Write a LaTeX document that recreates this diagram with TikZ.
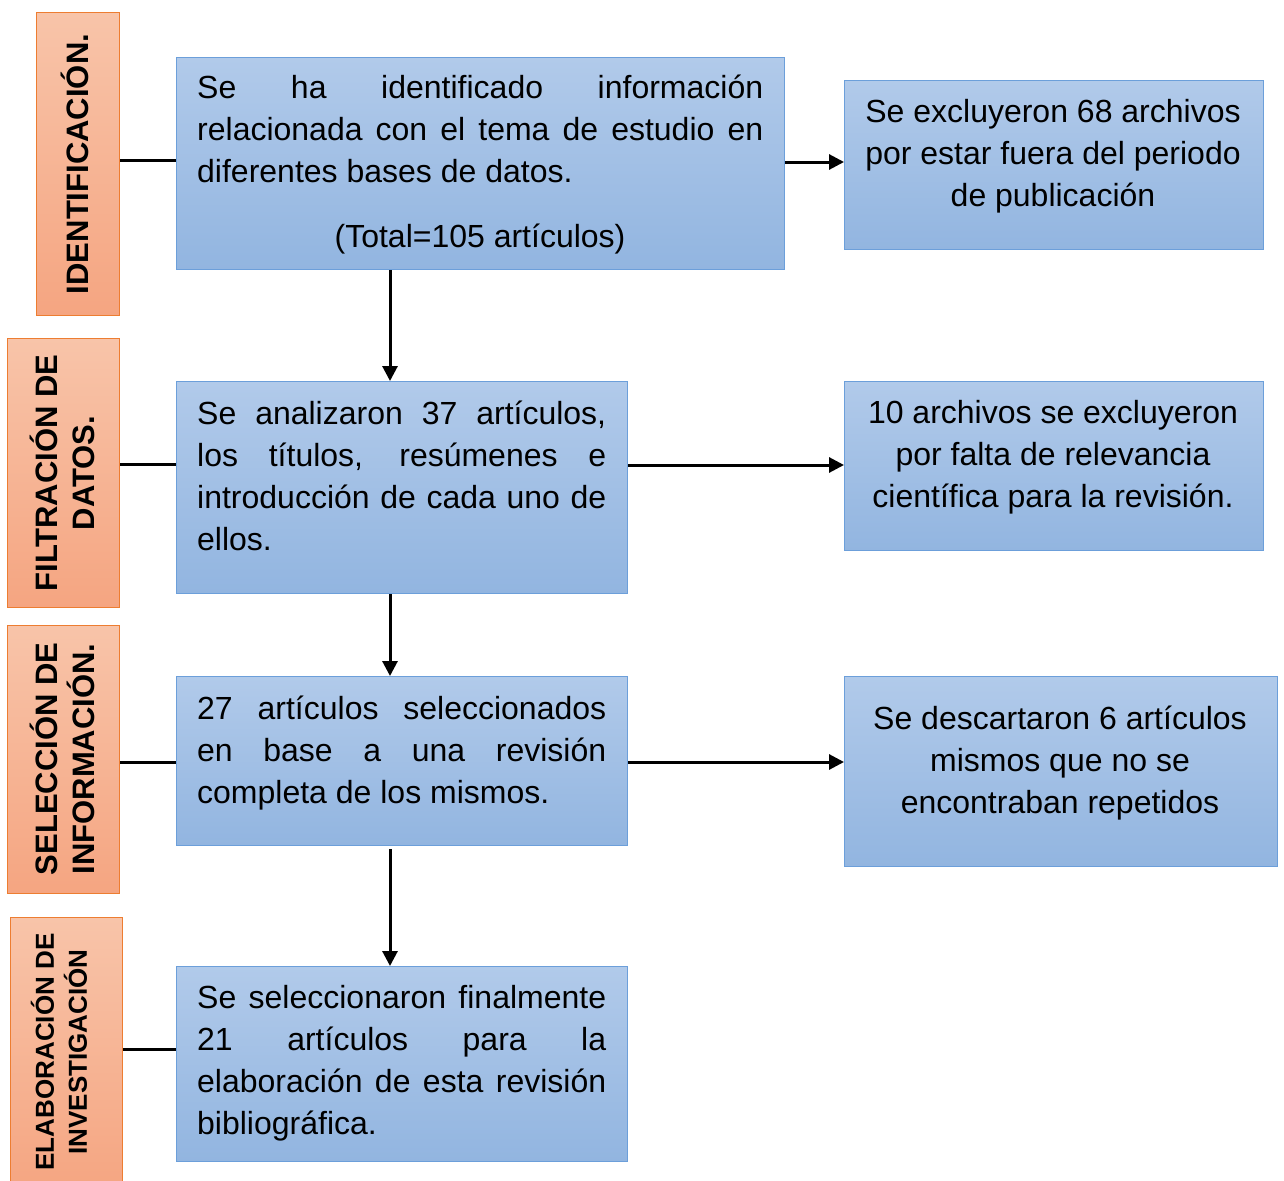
\documentclass[tikz,border=0pt]{standalone}
\usepackage{fontspec}
\setmainfont{Liberation Sans}
\usetikzlibrary{arrows.meta}
\definecolor{orT}{HTML}{F8C4A9}
\definecolor{orB}{HTML}{F5A581}
\definecolor{orD}{HTML}{ED7D31}
\definecolor{blT}{HTML}{B1CAEA}
\definecolor{blB}{HTML}{92B5E0}
\definecolor{blD}{HTML}{6C9FDA}
\newcommand{\jbox}[2]{\parbox[t]{#1}{\tolerance=10000\hbadness=10000\hyphenpenalty=10000 #2}}
\newcommand{\cbox}[2]{\parbox[t]{#1}{\centering #2}}
\begin{document}
\begin{tikzpicture}[x=1pt,y=-1pt,
  labbox/.style={draw=orD, line width=1.3pt, top color=orT, bottom color=orB, anchor=north west, inner sep=0},
  bbox/.style={draw=blD, line width=1.3pt, top color=blT, bottom color=blB, anchor=north west, inner sep=0},
  txt/.style={inner sep=0, font=\fontsize{32}{42}\selectfont},
  labtxt/.style={inner sep=0, rotate=90, align=center, font=\bfseries\fontsize{31}{37}\selectfont},
  conn/.style={line width=3pt},
  arr/.style={line width=3pt, -{Triangle[length=15pt,width=15pt]}}
]
\useasboundingbox (0,0) rectangle (1284,1180);
\fill[white] (0,0) rectangle (1284,1180);

% phase labels
\node[labbox, minimum width=83pt, minimum height=303pt] (L1) at (36,12) {};
\node[labbox, minimum width=112pt, minimum height=269pt] (L2) at (7,338) {};
\node[labbox, minimum width=112pt, minimum height=268pt] (L3) at (7,625) {};
\node[labbox, minimum width=112pt, minimum height=275pt] (L4) at (10,917) {};
\node[labtxt] (tL1) at (75,164) {IDENTIFICACIÓN.};
\node[labtxt] (tL2) at (62,473) {FILTRACIÓN DE\\DATOS.};
\node[labtxt] (tL3) at (62,759) {SELECCIÓN DE\\INFORMACIÓN.};
\node[labtxt, font=\bfseries\fontsize{26}{33}\selectfont] (tL4) at (59,1052) {ELABORACIÓN DE\\INVESTIGACIÓN};

% main boxes
\node[bbox, minimum width=608pt, minimum height=212pt] (A) at (176,57) {};
\node[bbox, minimum width=451pt, minimum height=212pt] (B) at (176,381) {};
\node[bbox, minimum width=451pt, minimum height=169pt] (C) at (176,676) {};
\node[bbox, minimum width=451pt, minimum height=195pt] (D) at (176,966) {};

% side boxes
\node[bbox, minimum width=419pt, minimum height=169pt] (E) at (844,80) {};
\node[bbox, minimum width=419pt, minimum height=169pt] (F) at (844,381) {};
\node[bbox, minimum width=433pt, minimum height=190pt] (G) at (844,676) {};

% texts
\node[txt, anchor=base west] (tA) at (197,99) {\jbox{566pt}{Se ha identificado información\linebreak relacionada con el tema de estudio en\linebreak diferentes bases de datos.}};
\node[txt, anchor=base] (tA2) at (480,247) {(Total=105 artículos)};
\node[txt, anchor=base west] (tB) at (197,424) {\jbox{409pt}{Se analizaron 37 artículos,\linebreak los títulos, resúmenes e\linebreak introducción de cada uno de\linebreak ellos.}};
\node[txt, anchor=base west] (tC) at (197,719) {\jbox{409pt}{27 artículos seleccionados\linebreak en base a una revisión\linebreak completa de los mismos.}};
\node[txt, anchor=base west] (tD) at (197,1008) {\jbox{409pt}{Se seleccionaron finalmente\linebreak 21 artículos para la\linebreak elaboración de esta revisión\linebreak bibliográfica.}};
\node[txt, anchor=base] (tE) at (1053,122) {\cbox{410pt}{Se excluyeron 68 archivos\\por estar fuera del periodo\\de publicación}};
\node[txt, anchor=base] (tF) at (1053,423) {\cbox{410pt}{10 archivos se excluyeron\\por falta de relevancia\\científica para la revisión.}};
\node[txt, anchor=base] (tG) at (1060,729) {\cbox{420pt}{Se descartaron 6 artículos\\mismos que no se\\encontraban repetidos}};

% connectors from labels
\draw[conn] (L1.east |- 0,160) -- (A.west |- 0,160);
\draw[conn] (L2.east |- 0,464) -- (B.west |- 0,464);
\draw[conn] (L3.east |- 0,762) -- (C.west |- 0,762);
\draw[conn] (L4.east |- 0,1049) -- (D.west |- 0,1049);

% horizontal arrows
\draw[arr] (A.east |- 0,162) -- (E.west |- 0,162);
\draw[arr] (B.east |- 0,465) -- (F.west |- 0,465);
\draw[arr] (C.east |- 0,762) -- (G.west |- 0,762);

% vertical arrows
\draw[arr] (A.south -| 390,0) -- (B.north -| 390,0);
\draw[arr] (B.south -| 390,0) -- (C.north -| 390,0);
\draw[arr] ([yshift=-3pt]C.south -| 390,0) -- (D.north -| 390,0);
\end{tikzpicture}
\end{document}
